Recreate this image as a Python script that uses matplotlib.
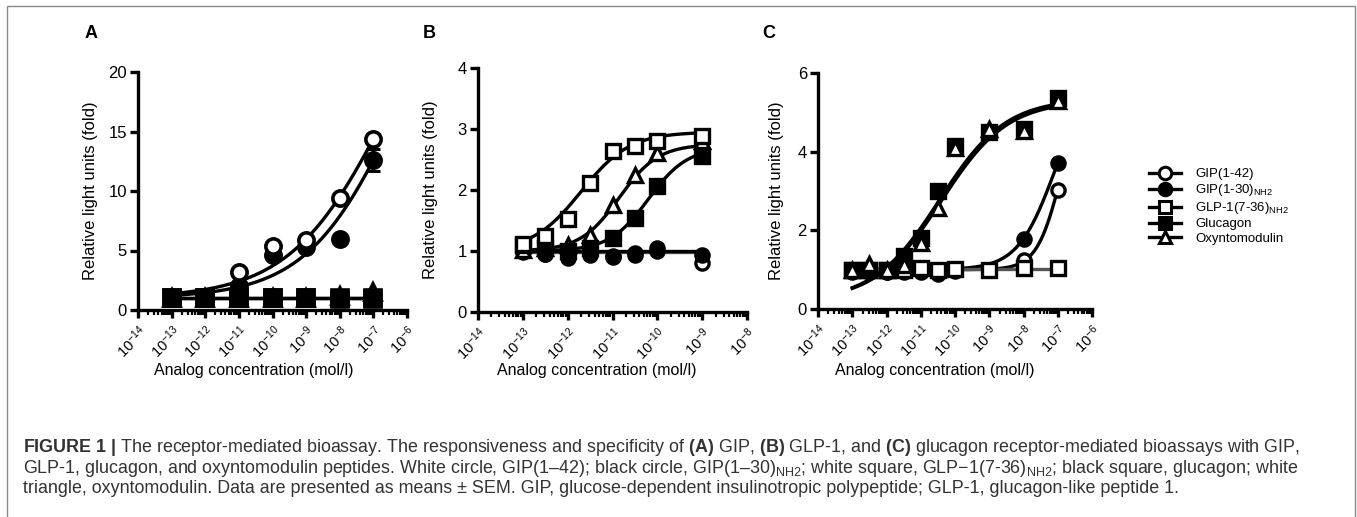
import matplotlib

matplotlib.use("Agg")
import matplotlib.pyplot as plt
import numpy as np
from matplotlib.lines import Line2D
from matplotlib.patches import Rectangle
from matplotlib.ticker import FixedLocator, LogLocator, NullFormatter

W, H = 1357, 517

plt.rcParams["font.family"] = ["Liberation Sans", "DejaVu Sans"]
plt.rcParams["mathtext.fontset"] = "custom"
plt.rcParams["mathtext.rm"] = "Liberation Sans"
plt.rcParams["mathtext.sf"] = "Liberation Sans"
plt.rcParams["mathtext.it"] = "Liberation Sans:italic"
plt.rcParams["mathtext.bf"] = "Liberation Sans:bold"
plt.rcParams["mathtext.default"] = "regular"

SERIES_NAMES = ["GIP(1-42)", "GIP(1-30)$_{NH2}$", "GLP-1(7-36)$_{NH2}$", "Glucagon", "Oxyntomodulin"]
SERIES_MARKERS = ["o", "o", "s", "s", "^"]
SERIES_FACES = ["white", "black", "white", "black", "white"]

# --- A: GIP receptor (log10 mol/l) ---
A_LOG_CONC = [-13, -12, -11, -10, -9, -8, -7]
A_GIP42 = [1.0, 1.1, 3.2, 5.4, 5.9, 9.4, 14.4]
A_GIP30 = [1.0, 1.0, 2.0, 4.6, 5.3, 6.0, 12.6]
A_GLP1 = [1.0, 1.0, 1.0, 1.0, 1.0, 1.0, 1.0]
A_GLUCAGON = [1.0, 1.0, 1.0, 1.05, 1.05, 0.95, 0.9]
A_OXM = [1.0, 1.0, 1.0, 1.0, 1.0, 1.2, 1.5]
A_GIP42_SEM = [0, 0, 0, 0, 0, 0, 0.35]
A_GIP30_SEM = [0, 0, 0, 0, 0, 0, 0.9]
# fit parameters: bottom, top, logEC50, hill
A_FITS = [(1.0, 32.0, -6.6, 0.3), (1.0, 32.0, -6.3, 0.32), (1.0, 1.0, 0, 1), (1.0, 1.0, 0, 1), (1.0, 1.0, 0, 1)]

# --- B: GLP-1 receptor ---
B_LOG_CONC = [-13, -12.5, -12, -11.5, -11, -10.5, -10, -9]
B_GIP42 = [1.0, 0.95, 0.88, 0.93, 0.9, 0.93, 1.0, 0.8]
B_GIP30 = [0.98, 0.95, 0.9, 0.97, 0.92, 0.97, 1.05, 0.93]
B_GLP1 = [1.12, 1.24, 1.53, 2.11, 2.64, 2.72, 2.81, 2.88]
B_GLUCAGON = [1.1, 1.05, 1.0, 1.05, 1.22, 1.54, 2.06, 2.55]
B_OXM = [1.02, 1.05, 1.1, 1.27, 1.76, 2.25, 2.61, 2.8]
B_FITS = [(0.98, 0.98, 0, 1), (1.0, 1.0, 0, 1), (1.0, 2.95, -11.7, 0.8), (1.0, 2.7, -10.2, 1.0), (1.0, 2.75, -10.85, 1.0)]

# --- C: glucagon receptor ---
C_LOG_CONC = [-13, -12.5, -12, -11.5, -11, -10.5, -10, -9, -8, -7]
C_GIP42 = [1.0, 1.0, 0.95, 1.0, 1.0, 0.93, 1.0, 1.0, 1.25, 3.03]
C_GIP30 = [0.95, 0.95, 0.95, 0.95, 0.95, 0.9, 0.97, 1.0, 1.79, 3.71]
C_GLP1 = [1.0, 1.0, 0.98, 1.0, 1.05, 0.98, 1.02, 0.98, 1.03, 1.05]
C_GLUCAGON = [1.0, 1.0, 1.0, 1.34, 1.8, 2.99, 4.15, 4.5, 4.58, 5.36]
C_OXM = [1.0, 1.15, 1.0, 1.13, 1.68, 2.57, 4.09, 4.58, 4.52, 5.28]
C_FITS = [(1.0, 6.0, -6.87, 1.2), (1.0, 6.0, -7.09, 0.8), (1.02, 1.02, 0, 1), (0.2, 5.35, -10.45, 0.45), (0.2, 5.3, -10.4, 0.45)]

CAPTION_LINES = [
    r"$\mathbf{FIGURE\ 1\ |}$ The receptor-mediated bioassay. The responsiveness and specificity of "
    r"$\mathbf{(A)}$ GIP, $\mathbf{(B)}$ GLP-1, and $\mathbf{(C)}$ glucagon receptor-mediated bioassays with GIP,",
    "GLP-1, glucagon, and oxyntomodulin peptides. White circle, GIP(1\u201342); black circle, GIP(1\u201330)$_{NH2}$; "
    "white square, GLP\u22121(7-36)$_{NH2}$; black square, glucagon; white",
    "triangle, oxyntomodulin. Data are presented as means \u00b1 SEM. GIP, glucose-dependent insulinotropic "
    "polypeptide; GLP-1, glucagon-like peptide 1.",
]


def four_pl(x, bottom, top, log_ec50, hill):
    return bottom + (top - bottom) / (1 + 10 ** ((log_ec50 - x) * hill))


def px_axes(fig, left, top, right, bottom):
    return fig.add_axes([left / W, 1 - bottom / H, (right - left) / W, (bottom - top) / H])


def setup_axes(ax, x_max_exp, y_ticks, xlabel_cx, ylabel_cx, box):
    left, top, right, bottom = box
    ax.set_xscale("log")
    ax.set_xlim(1e-14, 10.0 ** x_max_exp)
    ax.set_ylim(0, y_ticks[-1])
    ax.spines[["top", "right"]].set_visible(False)
    for side in ("left", "bottom"):
        ax.spines[side].set_linewidth(2.4)
    exps = np.arange(-14, x_max_exp + 1)
    ax.xaxis.set_major_locator(FixedLocator(10.0 ** exps))
    ax.xaxis.set_minor_locator(LogLocator(base=10, subs=np.arange(2, 10), numticks=30))
    ax.xaxis.set_minor_formatter(NullFormatter())
    ax.set_xticklabels([rf"$10^{{{e}}}$" for e in exps], rotation=45, ha="right", va="top",
                       rotation_mode="anchor", fontsize=10.5)
    ax.set_yticks(y_ticks)
    ax.tick_params(axis="y", which="major", length=6, width=2.4, labelsize=12, pad=2)
    ax.tick_params(axis="x", which="major", length=6, width=2.4, pad=3)
    ax.tick_params(axis="x", which="minor", length=3.5, width=1.6)
    w_px, h_px = right - left, bottom - top
    ax.set_xlabel("Analog concentration (mol/l)", fontsize=11.5, va="center")
    ax.xaxis.set_label_coords((xlabel_cx - left) / w_px, -(370 - bottom) / h_px)
    ax.set_ylabel("Relative light units (fold)", fontsize=12, va="center")
    ax.yaxis.set_label_coords((ylabel_cx - left) / w_px, 0.5)


def draw_panel(ax, log_conc, values, sems, fits, order, ms, mew):
    conc = 10.0 ** np.asarray(log_conc)
    xs = np.linspace(log_conc[0], log_conc[-1], 300)
    for i in order:
        colour = "black" if SERIES_FACES[i] == "black" or fits[i][0] != fits[i][1] else "#555555"
        ax.plot(10.0 ** xs, four_pl(xs, *fits[i]), color=colour, lw=2.4, zorder=2, clip_on=False)
    for z, i in enumerate(order):
        vals = np.asarray(values[i])
        if sems[i] is not None:
            sem = np.asarray(sems[i])
            m = sem > 0
            ax.errorbar(conc[m], vals[m], yerr=sem[m], fmt="none", ecolor="black",
                        elinewidth=2.2, capsize=5, capthick=2.2, zorder=3)
        ax.plot(conc, vals, linestyle="none", marker=SERIES_MARKERS[i], ms=ms, mew=mew,
                mfc=SERIES_FACES[i], mec="black", zorder=4 + z, clip_on=False)


fig = plt.figure(figsize=(W / 100, H / 100), dpi=100)

fig.add_artist(Rectangle((7 / W, -0.1), (1355 - 7) / W, 1.1 - 6 / H, fill=False,
                         edgecolor="#888888", lw=1.0, transform=fig.transFigure))

box_a = (138, 72, 407, 310)
box_b = (478, 68, 747, 312)
box_c = (818, 73, 1092, 309)

ax_a = px_axes(fig, *box_a)
setup_axes(ax_a, -6, [0, 5, 10, 15, 20], 254, 90, box_a)
draw_panel(ax_a, A_LOG_CONC, [A_GIP42, A_GIP30, A_GLP1, A_GLUCAGON, A_OXM],
           [A_GIP42_SEM, A_GIP30_SEM, None, None, None], A_FITS, [4, 2, 1, 0, 3], 11, 2.6)

ax_b = px_axes(fig, *box_b)
setup_axes(ax_b, -8, [0, 1, 2, 3, 4], 597, 430, box_b)
draw_panel(ax_b, B_LOG_CONC, [B_GIP42, B_GIP30, B_GLP1, B_GLUCAGON, B_OXM],
           [None] * 5, B_FITS, [0, 1, 4, 3, 2], 9.5, 2.4)

ax_c = px_axes(fig, *box_c)
setup_axes(ax_c, -6, [0, 2, 4, 6], 935, 777, box_c)
draw_panel(ax_c, C_LOG_CONC, [C_GIP42, C_GIP30, C_GLP1, C_GLUCAGON, C_OXM],
           [None] * 5, C_FITS, [0, 1, 2, 3, 4], 9.5, 2.4)

for letter, cx in zip("ABC", (91, 429, 769)):
    fig.text(cx / W, 1 - 33 / H, letter, fontsize=13, fontweight="bold", ha="center", va="center")

handles = [
    Line2D([], [], color="black", lw=2.4, marker=m, ms=9, mew=2.2, mfc=f, mec="black")
    for m, f in zip(SERIES_MARKERS, SERIES_FACES)
]
fig.legend(handles, SERIES_NAMES, loc="upper left", bbox_to_anchor=(1149 / W, 1 - 168 / H),
           frameon=False, fontsize=9.5, handlelength=2.4, handletextpad=1.1,
           labelspacing=0.15, borderpad=0, borderaxespad=0)

# caption, font size fitted so the first line spans like the reference
renderer = fig.canvas.get_renderer()
cap_texts = []
for k, line in enumerate(CAPTION_LINES):
    cap_texts.append(fig.text(23 / W, 1 - (448 + 20.3 * k) / H, line, fontsize=10,
                              color="#333333", ha="left", va="center"))
first_w = cap_texts[0].get_window_extent(renderer).width
size = 10 * (1302 - 23) / first_w
for t in cap_texts:
    t.set_fontsize(size)

fig.savefig("out.png", dpi=100)
